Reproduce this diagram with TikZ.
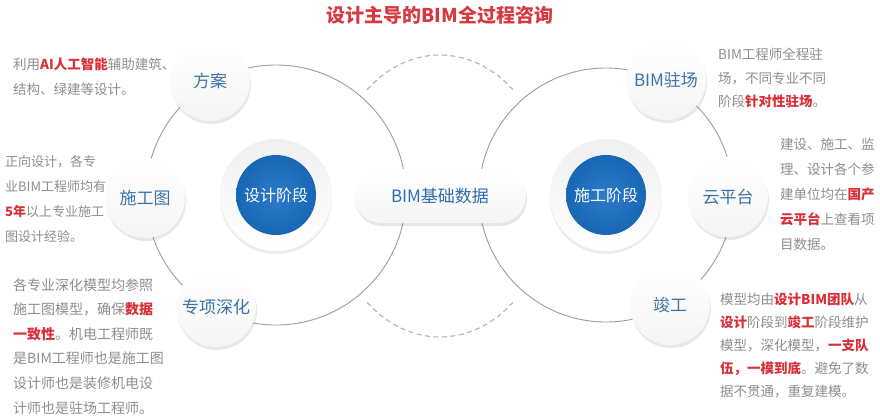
\documentclass[tikz,border=0pt]{standalone}
\usepackage{fontspec}
\setmainfont{Noto Sans CJK SC}
\usepackage{xcolor}
\usetikzlibrary{positioning,shadows}

\definecolor{titlered}{HTML}{D63A40}
\definecolor{hlred}{HTML}{D92F38}
\definecolor{notegray}{HTML}{8E8E8E}
\definecolor{labelblue}{HTML}{3B73A6}
\definecolor{hubblue}{HTML}{2C6DAE}
\definecolor{coreblue}{HTML}{1B6FC4}
\definecolor{orbitgray}{HTML}{9C9C9C}

\newcommand{\redbf}[1]{\textcolor{hlred}{\textbf{#1}}}

\begin{document}
\begin{tikzpicture}[x=1pt, y=1pt,
    spot/.style={circle, minimum size=80pt, inner sep=0pt, top color=white, bottom color=gray!8, text=labelblue, font=\fontsize{17}{17}\selectfont, drop shadow={shadow xshift=1pt, shadow yshift=-3pt, opacity=0.18}},
    ring/.style={circle, minimum size=112pt, inner sep=0pt, top color=gray!12, bottom color=white, drop shadow={shadow xshift=0pt, shadow yshift=-3pt, opacity=0.15}},
    core/.style={circle, minimum size=80pt, inner sep=0pt, inner color=coreblue!92!white, outer color=coreblue!92!black, text=white, font=\fontsize{16}{16}\selectfont},
    hub/.style={rectangle, rounded corners=27pt, minimum width=172pt, minimum height=54pt, top color=white, bottom color=gray!8, text=hubblue, font=\fontsize{17}{17}\selectfont, drop shadow={shadow xshift=1pt, shadow yshift=-3pt, opacity=0.2}},
    note/.style={anchor=north west, inner sep=0pt, align=left, text=notegray, font=\fontsize{13.5}{25}\selectfont},
    orbit/.style={draw=orbitgray, line width=0.9pt},
    link/.style={draw=gray!60, line width=1.1pt, dash pattern=on 5pt off 3.5pt}]

    \fill[white] (0,0) rectangle (880,-416);
    \useasboundingbox (0,0) rectangle (880,-416);

    \node[font=\fontsize{19}{19}\selectfont\bfseries, text=titlered] (title) at (440,-15) {设计主导的BIM全过程咨询};

    % orbits and dashed links
    \coordinate (lc) at (276,-195);
    \coordinate (rc) at (606,-195);
    \coordinate (mid) at (440,-196);
    \draw[orbit] (lc) circle[radius=130pt];
    \draw[orbit] (rc) circle[radius=127pt];
    \draw[link] (mid) ++(131:111 and 141) arc[start angle=131, end angle=49, x radius=111pt, y radius=141pt];
    \draw[link] (mid) ++(229:111 and 141) arc[start angle=229, end angle=311, x radius=111pt, y radius=141pt];

    % stages
    \node[ring] (designRing) at (lc) {};
    \node[core] (design) at (lc) {设计阶段};
    \node[ring] (buildRing) at (rc) {};
    \node[core] (build) at (rc) {施工阶段};
    \node[hub] (bimdata) at (mid) {BIM基础数据};

    \node[spot] (fangan) at (210,-81) {方案};
    \node[spot] (shigongtu) at (145,-198) {施工图};
    \node[spot] (zhuanxiang) at (216,-307) {专项深化};
    \node[spot] (zhuchang) at (666,-80) {BIM驻场};
    \node[spot] (yun) at (728,-197) {云平台};
    \node[spot] (jungong) at (670,-305) {竣工};

    % notes
    \node[note] (fanganNote) at (13,-58) {利用\redbf{AI人工智能}辅助建筑、\\结构、绿建等设计。};
    \node[note, font=\fontsize{13}{25}\selectfont] (shigongtuNote) at (5,-155) {正向设计，各专\\业BIM工程师均有\\\redbf{5年}以上专业施工\\图设计经验。};
    \node[note, font=\fontsize{14}{24.6}\selectfont] (zhuanxiangNote) at (13,-278) {各专业深化模型均参照\\施工图模型，确保\redbf{数据}\\\redbf{一致性}。机电工程师既\\是BIM工程师也是施工图\\设计师也是装修机电设\\计师也是驻场工程师。};
    \node[note, font=\fontsize{13.5}{23.5}\selectfont] (zhuchangNote) at (718,-48) {BIM工程师全程驻\\场，不同专业不同\\阶段\redbf{针对性驻场}。};
    \node[note, font=\fontsize{13.5}{25}\selectfont] (yunNote) at (780,-138) {建设、施工、监\\理、设计各个参\\建单位均在\redbf{国产}\\\redbf{云平台}上查看项\\目数据。};
    \node[note, font=\fontsize{13.5}{23}\selectfont] (jungongNote) at (720,-293) {模型均由\redbf{设计BIM团队}从\\\redbf{设计}阶段到\redbf{竣工}阶段维护\\模型，深化模型，\redbf{一支队}\\\redbf{伍，一模到底}。避免了数\\据不贯通，重复建模。};

\end{tikzpicture}
\end{document}
